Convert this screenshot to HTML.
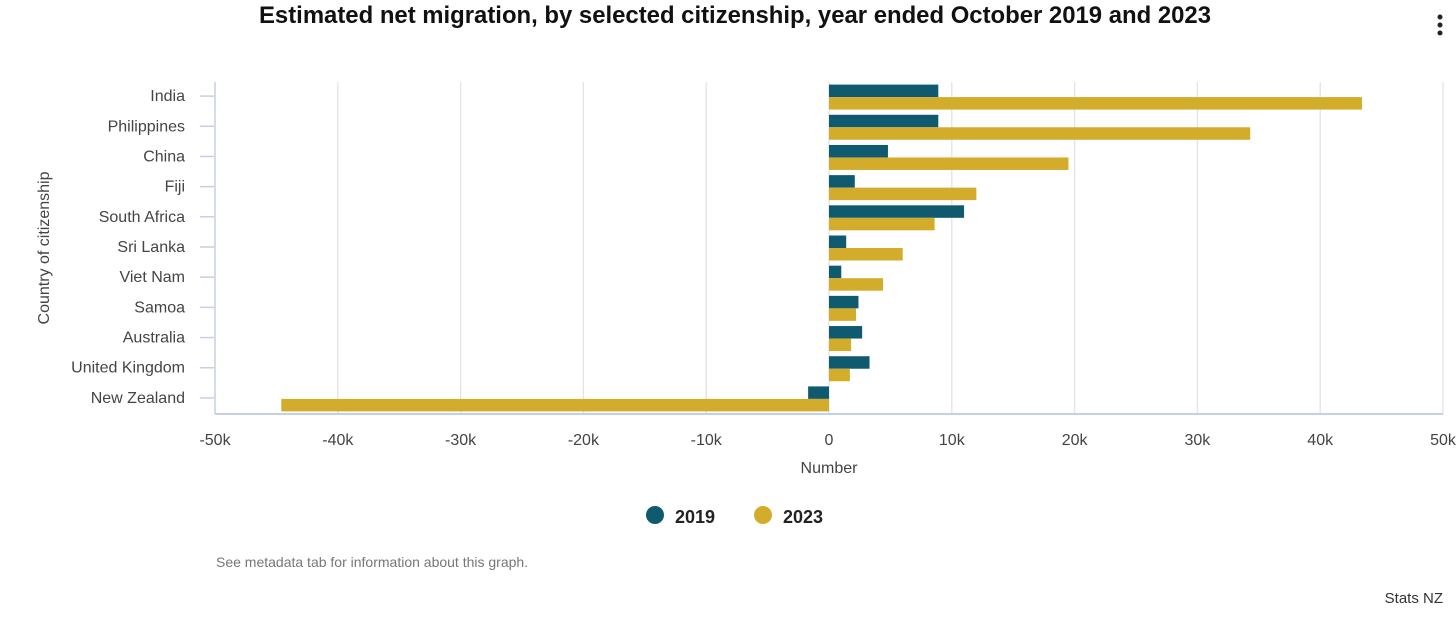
<!DOCTYPE html>
<html><head><meta charset="utf-8"><style>
body{margin:0;background:#fff;font-family:"Liberation Sans",sans-serif;}
svg{display:block}
</style></head><body>
<svg width="1456" height="625" id="c">
<text x="735" y="23" text-anchor="middle" font-size="23.9" font-weight="bold" fill="#111">Estimated net migration, by selected citizenship, year ended October 2019 and 2023</text>
<g fill="#222"><circle cx="1440" cy="17" r="2.5"/><circle cx="1440" cy="25" r="2.5"/><circle cx="1440" cy="33" r="2.5"/></g>
<g id="grid"></g><g id="bars"></g><g id="axes"></g>
<text x="829" y="473" text-anchor="middle" font-size="16" fill="#444">Number</text>
<text transform="translate(49,248) rotate(-90)" text-anchor="middle" font-size="16" fill="#444">Country of citizenship</text>
<g><circle cx="655" cy="515" r="9" fill="#0f5a6e"/><text x="675" y="523" font-size="18" font-weight="bold" fill="#222">2019</text></g>
<g><circle cx="763" cy="515" r="9" fill="#d4ac2c"/><text x="783" y="523" font-size="18" font-weight="bold" fill="#222">2023</text></g>
<text x="216" y="567" font-size="14" fill="#777">See metadata tab for information about this graph.</text>
<text x="1443" y="603" text-anchor="end" font-size="15" fill="#333">Stats NZ</text>
</svg>
<script>
const categories=["India","Philippines","China","Fiji","South Africa","Sri Lanka","Viet Nam","Samoa","Australia","United Kingdom","New Zealand"];
const values2019=[8.9,8.9,4.8,2.1,11.0,1.4,1.0,2.4,2.7,3.3,-1.7];
const values2023=[43.4,34.3,19.5,12.0,8.6,6.0,4.4,2.2,1.8,1.7,-44.6];
const xTicks=[-50,-40,-30,-20,-10,0,10,20,30,40,50];
const xTickLabels=["-50k","-40k","-30k","-20k","-10k","0","10k","20k","30k","40k","50k"];
const NS="http://www.w3.org/2000/svg";
const L=215,R=1443,T=82,B=414;
function x(v){return L+(v+50)/100*(R-L);}
function yc(i){return T+(i+0.5)*(B-T)/categories.length;}
function mk(p,tag,a){const e=document.createElementNS(NS,tag);for(const k in a)e.setAttribute(k,a[k]);document.getElementById(p).appendChild(e);return e;}
xTicks.forEach((t,i)=>{
 if(t!==-50){const g=mk('grid','line',{x1:x(t),x2:x(t),y1:T,y2:B,stroke:'#dfe3ea','stroke-width':1.3});
 
 }
 const tx=mk('axes','text',{x:x(t),y:445,'text-anchor':'middle','font-size':16,fill:'#444'});
 tx.textContent=xTickLabels[i];
 
 
});
const ax=mk('axes','line',{x1:L,x2:L,y1:T,y2:B,stroke:'#c5d0e6','stroke-width':1.5});


const bx=mk('axes','line',{x1:L,x2:R,y1:B,y2:B,stroke:'#c5d0e6','stroke-width':2});


categories.forEach((c,i)=>{
 const y=yc(i);
 const tk=mk('axes','line',{x1:200,x2:214,y1:y-1,y2:y-1,stroke:'#c5d0e6','stroke-width':1.5});
 
 
 const lb=mk('axes','text',{x:185,y:y+4,'text-anchor':'end','font-size':16,fill:'#444'});
 lb.textContent=c;
 
 
 [[values2019,'#0f5a6e',-12.5],[values2023,'#d4ac2c',0]].forEach(([arr,col,off])=>{
  const v=arr[i];const x0=x(Math.min(0,v)),x1=x(Math.max(0,v));
  const r=mk('bars','rect',{x:x0,y:y+off,width:x1-x0,height:12.5,fill:col});
  
  
 });
});
</script>
</body></html>
